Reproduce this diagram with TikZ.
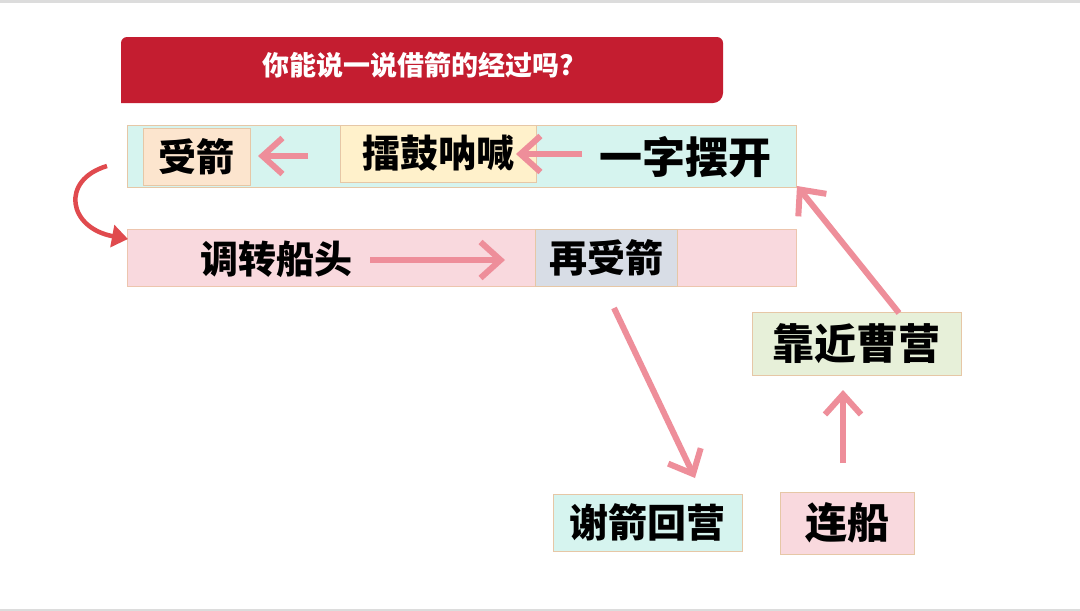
\documentclass[tikz,border=0pt]{standalone}
\usepackage{fontspec}
\newfontfamily\cjk{Noto Sans CJK SC}[BoldFont={Noto Sans CJK SC Black}]
\usetikzlibrary{arrows.meta}
\definecolor{bannerred}{HTML}{C41D30}
\definecolor{parrow}{HTML}{EE8E9A}
\definecolor{carrow}{HTML}{E04A4E}
\definecolor{cyanfill}{HTML}{D6F4EF}
\definecolor{peachfill}{HTML}{FCE5CE}
\definecolor{yellowfill}{HTML}{FFF1CB}
\definecolor{pinkfill}{HTML}{F9D9DE}
\definecolor{greyblue}{HTML}{D8DDE6}
\definecolor{greenfill}{HTML}{E7F0D9}
\definecolor{tanline}{HTML}{E6C7A6}
\definecolor{edgegray}{HTML}{DCDCDC}
\tikzset{
  box/.style={draw=tanline, line width=1pt, inner sep=0pt, font=\cjk\bfseries},
  lbl/.style={inner sep=0pt, font=\cjk\bfseries},
  parr/.style={draw=parrow, line width=6pt, -{Straight Barb[length=20pt,width=36pt,line width=6pt]}},
  carr/.style={draw=carrow, line width=4.5pt, -{Triangle[length=16pt,width=22pt]}},
}
\begin{document}
\begin{tikzpicture}[x=1pt,y=-1pt]
\useasboundingbox (0,0) rectangle (1080,611);
\fill[white] (0,0) rectangle (1080,611);
\draw[edgegray, line width=3pt] (0,1.5) -- (1080,1.5);
\draw[edgegray, line width=2pt] (0,610) -- (1080,610);
% banner
\fill[bannerred] (121,43) [rounded corners=6pt] -- (121,37) -- (723,37) [rounded corners=10pt] -- (723,103) [sharp corners] -- (121,103) -- cycle;
\node[lbl, text=white, font=\cjk\bfseries\fontsize{27}{30}\selectfont] (title) at (418,65) {你能说一说借箭的经过吗?};
% top bar
\node[box, fill=cyanfill, minimum width=669pt, minimum height=62pt] (top) at (461.5,156) {};
\node[box, fill=peachfill, minimum width=107pt, minimum height=57pt, font=\cjk\bfseries\fontsize{38}{40}\selectfont] (shou) at (196.5,156.5) {受箭};
\node[box, fill=yellowfill, minimum width=196pt, minimum height=57pt, font=\cjk\bfseries\fontsize{38}{40}\selectfont] (lei) at (438,153.5) {擂鼓呐喊};
\node[lbl, font=\cjk\bfseries\fontsize{43}{45}\selectfont] (yi) at (685,157) {一字摆开};
% bottom bar
\node[box, draw=tanline!70!pink, fill=pinkfill, minimum width=669pt, minimum height=57pt] (bot) at (461.5,257.5) {};
\node[lbl, font=\cjk\bfseries\fontsize{38}{40}\selectfont] (tiao) at (276,259) {调转船头};
\node[box, fill=greyblue, minimum width=142pt, minimum height=57pt, font=\cjk\bfseries\fontsize{38}{40}\selectfont] (zai) at (606,257.5) {再受箭};
% lower boxes
\node[box, fill=cyanfill, minimum width=189pt, minimum height=57pt, font=\cjk\bfseries\fontsize{39}{41}\selectfont] (xie) at (647.5,522.5) {谢箭回营};
\node[box, fill=pinkfill, minimum width=134pt, minimum height=62pt, font=\cjk\bfseries\fontsize{42}{44}\selectfont] (lian) at (847,523) {连船};
\node[box, fill=greenfill, minimum width=209pt, minimum height=63pt, font=\cjk\bfseries\fontsize{42}{44}\selectfont] (kao) at (856.5,343.5) {靠近曹营};
% connector ends
\coordinate (a1s) at (308,156); \coordinate (a1e) at (258,156);
\coordinate (a2s) at (582,154); \coordinate (a2e) at (516,154);
\coordinate (a3s) at (370,260); \coordinate (a3e) at (505,260);
\coordinate (a4s) at (614,308); \coordinate (a4e) at (695,478);
\coordinate (a5s) at (843,463); \coordinate (a5e) at (843,390);
\coordinate (a6s) at (899,313); \coordinate (a6e) at (797,186);
\coordinate (cs) at (107,166); \coordinate (ce) at (128,239);
\draw[parr] (a1s) -- (a1e);
\draw[parr] (a2s) -- (a2e);
\draw[parr] (a3s) -- (a3e);
\draw[parr] (a4s) -- (a4e);
\draw[parr] (a5s) -- (a5e);
\draw[parr] (a6s) -- (a6e);
\draw[carr] (cs) .. controls (60,180) and (68,228) .. (ce);
\end{tikzpicture}
\end{document}
